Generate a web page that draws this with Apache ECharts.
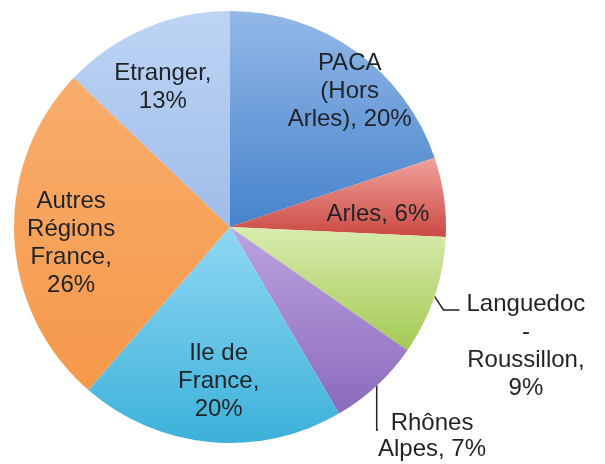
<!DOCTYPE html>
<html>
<head>
<meta charset="utf-8">
<script src="https://cdn.jsdelivr.net/npm/echarts@6/dist/echarts.min.js"></script>
<style>
html,body{margin:0;padding:0;background:#fff;}
#chart{width:605px;height:464px;}
</style>
</head>
<body>
<div id="chart"></div>
<script>
const categories = ['PACA (Hors Arles)', 'Arles', 'Languedoc - Roussillon', 'Rhônes Alpes', 'Ile de France', 'Autres Régions France', 'Etranger'];
const values = [20, 6, 9, 7, 20, 26, 13];
const labelLines = [
  ['PACA', '(Hors', 'Arles), 20%'],
  ['Arles, 6%'],
  ['Languedoc', '-', 'Roussillon,', '9%'],
  ['Rhônes', 'Alpes, 7%'],
  ['Ile de', 'France,', '20%'],
  ['Autres', 'Régions', 'France,', '26%'],
  ['Etranger,', '13%']
];
const outside = [false, false, true, true, false, false, false];

const colorStops = [
  ['#93b8e8', '#4683cb'],
  ['#f0a39c', '#cb4943'],
  ['#d9ebb0', '#a3ca52'],
  ['#bca3de', '#8a6abd'],
  ['#8fd8f3', '#3cb1da'],
  ['#f9ad6c', '#f5984a'],
  ['#bdd4f4', '#9fbdea']
];

const FONT = '"Liberation Sans", Arial, Helvetica, sans-serif';
const TXT = '#1f2226';

// label nudges (inside: offset from library position; outside: anchor)
const insideShift = {0: [55, -45], 1: [38, 3], 4: [-1, 43.5], 5: [-48, 11], 6: [-23.5, -37.7]};
const outsideAnchor = {2: [459.5, 310], 3: [388, 430]};

const data = categories.map((name, i) => {
  const item = {
    name: name,
    value: values[i],
    itemStyle: {
      color: new echarts.graphic.LinearGradient(0, 0, 0, 1, [
        {offset: 0, color: colorStops[i][0]},
        {offset: 1, color: colorStops[i][1]}
      ])
    }
  };
  if (outside[i]) {
    const lh = i === 2 ? 28 : 26;
    item.label = {
      position: 'outside',
      formatter: labelLines[i].map(s => '{c|' + s + '}').join('\n'),
      backgroundColor: 'rgba(255,255,255,0)',
      padding: i === 2 ? [72, 0, 0, 7] : [13, 0, 0, -10],
      lineHeight: lh,
      rich: {
        c: {align: 'center', fontSize: 24, lineHeight: lh, fontFamily: FONT, color: TXT}
      }
    };
    item.labelLine = {show: true, length: 15, length2: i === 2 ? 16 : 5, lineStyle: {color: '#222', width: 1.5}};
  } else {
    item.label = {position: 'inside', formatter: labelLines[i].join('\n')};
    item.labelLine = {show: false};
  }
  return item;
});

const chart = echarts.init(document.getElementById('chart'), null, {renderer: 'canvas'});
chart.setOption({
  backgroundColor: '#ffffff',
  animation: false,
  series: [{
    type: 'pie',
    center: [230, 227],
    radius: 216,
    startAngle: 90,
    clockwise: true,
    avoidLabelOverlap: false,
    itemStyle: {borderWidth: 0},
    emphasis: {disabled: true},
    label: {
      show: true,
      fontSize: 24,
      lineHeight: 28,
      fontFamily: FONT,
      color: TXT
    },
    labelLayout: function (p) {
      const i = p.dataIndex;
      if (outsideAnchor[i]) {
        return {x: outsideAnchor[i][0], y: outsideAnchor[i][1], align: 'left', verticalAlign: 'middle'};
      }
      if (insideShift[i]) {
        return {dx: insideShift[i][0], dy: insideShift[i][1]};
      }
      return {};
    },
    data: data
  }]
});
</script>
</body>
</html>
